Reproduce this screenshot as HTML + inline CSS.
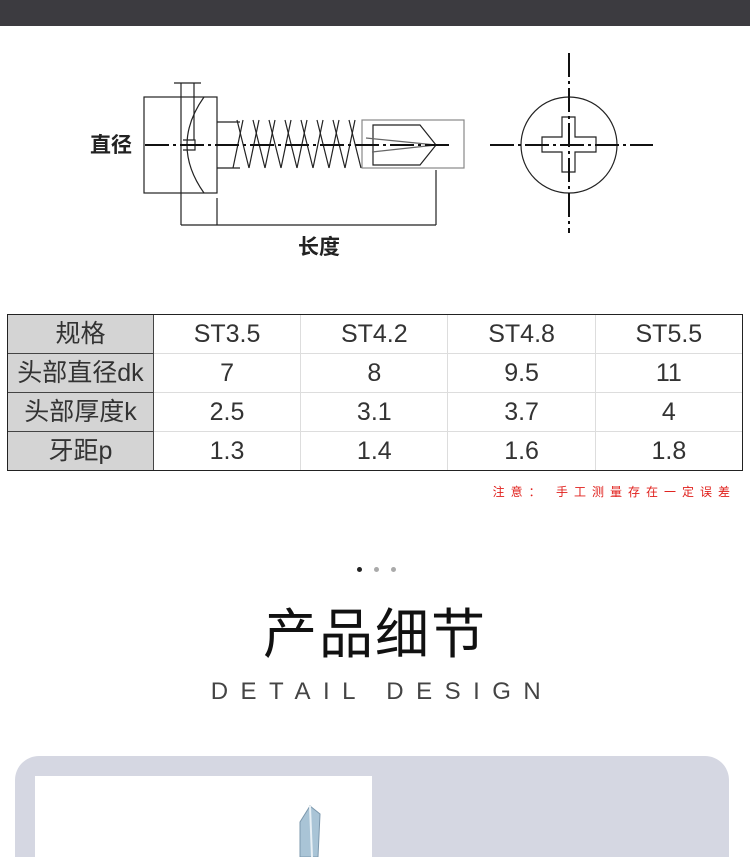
<!DOCTYPE html>
<html><head><meta charset="utf-8">
<style>
html,body{margin:0;width:750px;height:857px;overflow:hidden;background:#fff}
body{position:relative;font-family:"Liberation Sans","Noto Sans CJK SC",sans-serif}
.bar{position:absolute;left:0;top:0;width:750px;height:26px;background:#3c3b40}
table{position:absolute;left:7px;top:314px;border-collapse:collapse;width:736px}
td{border:1px solid #ddd;height:38px;padding:0;text-align:center;font-size:25px;color:#333;width:147px;line-height:38px}
td.h{background:#d4d4d4;border:1px solid #444;width:146px}
.tb{position:absolute;left:7px;top:314px;width:734px;height:155px;border:1px solid #222;pointer-events:none}
.note{position:absolute;right:14px;top:483px;font-size:12px;color:#e0201c;letter-spacing:6px}
.dot{position:absolute;top:567px;width:5px;height:5px;border-radius:50%;background:#aaa}
.t1{position:absolute;left:0;width:750px;top:590px;text-align:center;font-size:54px;color:#111;letter-spacing:2px}
.t2{position:absolute;left:0;width:740px;top:678px;text-align:center;font-size:24px;color:#444;letter-spacing:12.5px;padding-left:12px}
.card{position:absolute;left:15px;top:756px;width:714px;height:101px;background:#d5d7e2;border-radius:24px 24px 0 0}
.pan{position:absolute;left:35px;top:776px;width:337px;height:81px;background:#fff}
</style></head><body>
<div class="bar"></div>
<svg style="position:absolute;left:0;top:0" width="750" height="300">
<g fill="none" stroke="#222" stroke-width="1.2">
<rect x="144" y="97" width="73" height="96"/>
<path d="M204 97 Q170 145 204 193"/>
<path d="M174 83 H201 M181 83 V225 M194 83 V140"/>
<path d="M183 140 H195 V150 H183"/>
<path d="M217 122 H240 M217 168 H240"/>
<path d="M237 120 L249 168 M253 120 L265 168 M269 120 L281 168 M285 120 L297 168 M301 120 L313 168 M317 120 L329 168 M333 120 L345 168 M349 120 L361 168"/>
<path d="M243 120 L233 168 M259 120 L249 168 M275 120 L265 168 M291 120 L281 168 M307 120 L297 168 M323 120 L313 168 M339 120 L329 168 M355 120 L345 168"/>
<rect x="362" y="120" width="102" height="48" stroke="#888"/>
<path d="M373 125 H420 L436 145 L420 165 H373 Z"/>
<path d="M366 138 L436 145 M372 152 L436 145" stroke="#666"/>
<path d="M217 198 V225 M436 170 V225 M181 225 H436"/>
<circle cx="569" cy="145" r="48"/>
<path d="M562 117 H575 V137 H596 V152 H575 V172 H562 V152 H542 V137 H562 Z"/>
</g>
<g stroke="#111" stroke-width="2" stroke-dasharray="24 4 3 4">
<path d="M145 145 H450"/><path d="M490 145 H653"/><path d="M569 53 V233"/>
</g>
<text x="90" y="152" font-size="21" fill="#222" font-family="Liberation Sans,Noto Sans CJK SC,sans-serif" font-weight="bold">直径</text>
<text x="298" y="254" font-size="21" fill="#222" font-family="Liberation Sans,Noto Sans CJK SC,sans-serif" font-weight="bold">长度</text>
</svg>
<table>
<tr><td class="h">规格</td><td>ST3.5</td><td>ST4.2</td><td>ST4.8</td><td>ST5.5</td></tr>
<tr><td class="h">头部直径dk</td><td>7</td><td>8</td><td>9.5</td><td>11</td></tr>
<tr><td class="h">头部厚度k</td><td>2.5</td><td>3.1</td><td>3.7</td><td>4</td></tr>
<tr><td class="h">牙距p</td><td>1.3</td><td>1.4</td><td>1.6</td><td>1.8</td></tr>
</table>
<div class="tb"></div>
<div class="note">注意： 手工测量存在一定误差</div>
<div class="dot" style="left:357px;background:#222"></div>
<div class="dot" style="left:374px"></div>
<div class="dot" style="left:391px"></div>
<div class="t1">产品细节</div>
<div class="t2">DETAIL DESIGN</div>
<div class="card"></div>
<div class="pan"></div>
<svg style="position:absolute;left:290px;top:800px" width="50" height="57">
<path d="M10 22 L20 6 L30 14 L28 57 L10 57 Z" fill="#a9c4d6" stroke="#7c98ad"/>
<path d="M20 6 L22 57" stroke="#e8f0f5" stroke-width="2"/>
</svg>
</body></html>
